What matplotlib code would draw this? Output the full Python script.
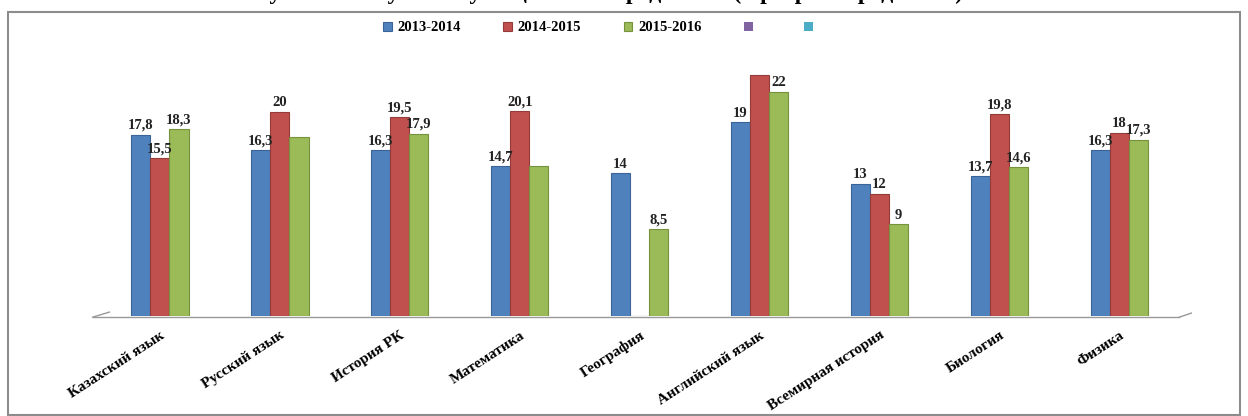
# столбчатая диаграмма по предметам за три учебных года
import numpy as np
import matplotlib
matplotlib.use("Agg")
import matplotlib.pyplot as plt
from matplotlib.patches import Rectangle

plt.rcParams['font.family'] = ['Liberation Serif', 'DejaVu Serif']

# данные
subjects = ["Казахский язык", "Русский язык", "История РК", "Математика",
            "География", "Английский язык", "Всемирная история", "Биология", "Физика"]
years = ["2013-2014", "2014-2015", "2015-2016"]

v_2013 = [17.8, 16.3, 16.3, 14.7, 14.0, 19.0, 13.0, 13.7, 16.3]
v_2014 = [15.5, 20.0, 19.5, 20.1, 0.0, 23.6, 12.0, 19.8, 18.0]
v_2015 = [18.3, 17.6, 17.9, 14.7, 8.5, 22.0, 9.0, 14.6, 17.3]

# подписи значений (пустая строка - подписи на рисунке нет)
lab_2013 = ["17,8", "16,3", "16,3", "14,7", "14", "19", "13", "13,7", "16,3"]
lab_2014 = ["15,5", "20", "19,5", "20,1", "", "", "12", "19,8", "18"]
lab_2015 = ["18,3", "", "17,9", "", "8,5", "22", "9", "14,6", "17,3"]

colors = ["#4F81BD", "#C0504D", "#9BBB59"]
edges = ["#3A6397", "#943C3A", "#76923C"]

fig = plt.figure(figsize=(12.48, 4.16), dpi=100)
ax = fig.add_axes([0.080, 0.240, 0.865, 0.613])

x = np.arange(len(subjects))
w = 0.16
series = [v_2013, v_2014, v_2015]
labels = [lab_2013, lab_2014, lab_2015]

for i, (vals, labs) in enumerate(zip(series, labels)):
    pos = x + (i - 1) * w
    bars = ax.bar(pos, vals, width=w, color=colors[i], edgecolor=edges[i],
                  linewidth=0.8, label=years[i], zorder=3)
    ax.bar_label(bars, labels=labs, padding=2, fontsize=10.5, fontweight='bold',
                 color='#222222', zorder=5)

# пустые элементы легенды
ax.bar([0], [0], width=0, color="#8064A2", label=" ")
ax.bar([0], [0], width=0, color="#4BACC6", label=" ")

ax.set_xlim(-0.5, 8.5)
ax.set_ylim(0, 25)
ax.set_yticks([])
ax.set_xticks(x)
ax.set_xticklabels(subjects, rotation=33, ha='right', rotation_mode='anchor',
                   fontsize=11, fontweight='bold')
ax.tick_params(axis='x', length=0, pad=9)
for s in ax.spines.values():
    s.set_visible(False)

# "пол" диаграммы
ax.plot([-0.56, 8.5], [-0.1, -0.1], color='#999999', lw=1, clip_on=False, zorder=2)
ax.plot([-0.56, -0.42], [-0.1, 0.4], color='#999999', lw=1, clip_on=False, zorder=2)
ax.plot([8.5, 8.6], [-0.1, 0.3], color='#999999', lw=1, clip_on=False, zorder=2)

leg = fig.legend(loc='center', bbox_to_anchor=(0.483, 0.933), ncol=5, frameon=False,
                 prop={'weight': 'bold', 'size': 10.5}, handlelength=0.6,
                 handleheight=0.6, columnspacing=2.9, handletextpad=0.4)

# рамка диаграммы
fig.patches.append(Rectangle((8 / 1248, 0.003), 1232 / 1248, 0.968,
                             transform=fig.transFigure, fill=False,
                             edgecolor='#8C8C8C', linewidth=1.5))

# заголовок (срезан верхним краем)
fig.text(0.48, 1.003, "Результаты обучения учащихся по предметам (в разрезе предметов)",
         ha='center', va='baseline', fontsize=17, fontweight='bold')

fig.savefig("out.png", dpi=100)
